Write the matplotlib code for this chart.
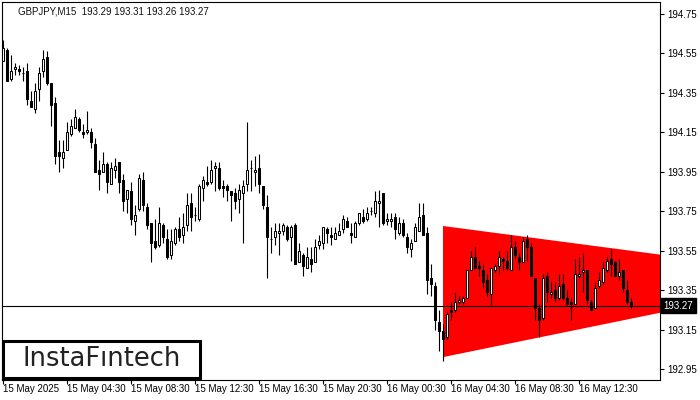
import numpy as np
import matplotlib
matplotlib.use("Agg")
import matplotlib.pyplot as plt
from matplotlib.patches import Polygon, Rectangle

plt.rcParams['font.family'] = ['Liberation Sans', 'DejaVu Sans']

# GBPJPY M15 candles
opens = [194.51, 194.57, 194.42, 194.47, 194.47, 194.45, 194.46, 194.31, 194.27, 194.37,
         194.46, 194.53, 194.40, 194.30, 194.05, 194.02, 194.06, 194.14, 194.17, 194.22,
         194.15, 194.15, 194.15, 194.09, 193.96, 193.95, 193.99, 193.89, 193.96, 194.00,
         193.91, 193.81, 193.85, 193.70, 193.76, 193.91, 193.77, 193.69, 193.60, 193.58,
         193.68, 193.61, 193.53, 193.59, 193.66, 193.63, 193.68, 193.79, 193.73, 193.71,
         193.87, 193.90, 193.90, 193.97, 193.97, 193.88, 193.88, 193.85, 193.84, 193.81,
         193.84, 193.89, 193.97, 193.95, 193.97, 193.88, 193.77, 193.61, 193.62, 193.64,
         193.65, 193.67, 193.62, 193.68, 193.49, 193.53, 193.46, 193.51, 193.49, 193.58,
         193.59, 193.66, 193.63, 193.61, 193.63, 193.66, 193.70, 193.64, 193.62, 193.69,
         193.72, 193.71, 193.75, 193.74, 193.79, 193.84, 193.70, 193.70, 193.72, 193.64,
         193.69, 193.62, 193.56, 193.60, 193.65, 193.73, 193.64, 193.41, 193.37, 193.19,
         193.14, 193.11, 193.25, 193.25, 193.29, 193.29, 193.31, 193.45, 193.52, 193.47,
         193.45, 193.40, 193.33, 193.45, 193.47, 193.51, 193.50, 193.45, 193.57, 193.52,
         193.49, 193.61, 193.57, 193.41, 193.26, 193.21, 193.42, 193.33, 193.35, 193.31,
         193.38, 193.31, 193.29, 193.28, 193.42, 193.44, 193.45, 193.29, 193.26, 193.37,
         193.39, 193.45, 193.51, 193.49, 193.42, 193.45, 193.35, 193.29]
highs = [194.62, 194.58, 194.54, 194.50, 194.49, 194.48, 194.50, 194.36, 194.40, 194.48,
         194.57, 194.56, 194.40, 194.33, 194.11, 194.11, 194.20, 194.22, 194.27, 194.23,
         194.19, 194.26, 194.17, 194.12, 194.01, 194.05, 194.00, 194.00, 194.02, 194.00,
         193.94, 193.86, 193.90, 193.78, 193.94, 193.95, 193.79, 193.69, 193.71, 193.77,
         193.69, 193.66, 193.66, 193.67, 193.72, 193.74, 193.84, 193.84, 193.77, 193.89,
         193.93, 193.98, 194.01, 194.00, 194.00, 193.91, 193.89, 193.85, 193.87, 193.89,
         193.91, 194.20, 194.01, 194.03, 194.04, 193.88, 193.83, 193.67, 193.69, 193.69,
         193.69, 193.68, 193.68, 193.69, 193.59, 193.54, 193.57, 193.57, 193.61, 193.63,
         193.67, 193.67, 193.67, 193.67, 193.69, 193.73, 193.72, 193.69, 193.70, 193.74,
         193.76, 193.77, 193.77, 193.85, 193.86, 193.84, 193.74, 193.74, 193.74, 193.72,
         193.71, 193.64, 193.61, 193.69, 193.79, 193.79, 193.67, 193.48, 193.39, 193.25,
         193.18, 193.24, 193.29, 193.34, 193.32, 193.32, 193.45, 193.55, 193.57, 193.50,
         193.48, 193.43, 193.46, 193.48, 193.55, 193.52, 193.55, 193.63, 193.60, 193.54,
         193.62, 193.63, 193.59, 193.41, 193.28, 193.43, 193.44, 193.39, 193.39, 193.43,
         193.43, 193.35, 193.31, 193.51, 193.52, 193.54, 193.45, 193.30, 193.39, 193.44,
         193.49, 193.52, 193.56, 193.50, 193.51, 193.45, 193.40, 193.31]
lows = [194.51, 194.41, 194.41, 194.44, 194.44, 194.41, 194.29, 194.28, 194.25, 194.31,
        194.43, 194.39, 194.18, 193.99, 193.95, 193.97, 194.06, 194.13, 194.17, 194.15,
        194.12, 194.14, 194.07, 193.95, 193.86, 193.95, 193.84, 193.89, 193.92, 193.84,
        193.75, 193.74, 193.68, 193.63, 193.75, 193.75, 193.66, 193.49, 193.56, 193.57,
        193.59, 193.51, 193.51, 193.58, 193.60, 193.59, 193.65, 193.65, 193.70, 193.70,
        193.80, 193.88, 193.89, 193.85, 193.86, 193.82, 193.80, 193.70, 193.76, 193.74,
        193.59, 193.85, 193.85, 193.88, 193.84, 193.76, 193.41, 193.54, 193.58, 193.53,
        193.63, 193.60, 193.50, 193.48, 193.49, 193.42, 193.46, 193.44, 193.49, 193.56,
        193.56, 193.59, 193.58, 193.61, 193.63, 193.64, 193.67, 193.59, 193.62, 193.68,
        193.69, 193.70, 193.73, 193.72, 193.67, 193.68, 193.68, 193.67, 193.61, 193.63,
        193.62, 193.54, 193.52, 193.60, 193.65, 193.63, 193.33, 193.32, 193.15, 193.04,
        192.99, 193.10, 193.20, 193.24, 193.28, 193.28, 193.31, 193.45, 193.46, 193.42,
        193.36, 193.32, 193.27, 193.44, 193.43, 193.45, 193.45, 193.45, 193.51, 193.45,
        193.49, 193.50, 193.42, 193.20, 193.11, 193.20, 193.29, 193.31, 193.29, 193.30,
        193.30, 193.27, 193.20, 193.28, 193.41, 193.34, 193.28, 193.25, 193.26, 193.36,
        193.38, 193.44, 193.42, 193.42, 193.40, 193.34, 193.28, 193.26]
closes = [194.58, 194.41, 194.46, 194.48, 194.46, 194.45, 194.32, 194.28, 194.36, 194.45,
          194.52, 194.40, 194.29, 194.03, 194.03, 194.05, 194.15, 194.18, 194.23, 194.16,
          194.14, 194.16, 194.10, 193.95, 193.94, 193.99, 193.90, 193.97, 193.98, 193.90,
          193.80, 193.86, 193.71, 193.73, 193.92, 193.78, 193.68, 193.59, 193.57, 193.69,
          193.62, 193.52, 193.60, 193.66, 193.62, 193.67, 193.78, 193.72, 193.73, 193.88,
          193.91, 193.89, 193.96, 193.98, 193.87, 193.87, 193.86, 193.83, 193.80, 193.86,
          193.88, 193.96, 193.97, 193.96, 193.89, 193.78, 193.62, 193.61, 193.65, 193.65,
          193.68, 193.61, 193.67, 193.48, 193.55, 193.47, 193.52, 193.48, 193.57, 193.60,
          193.67, 193.64, 193.62, 193.64, 193.65, 193.71, 193.67, 193.63, 193.69, 193.74,
          193.70, 193.74, 193.75, 193.80, 193.80, 193.69, 193.71, 193.71, 193.66, 193.69,
          193.63, 193.57, 193.59, 193.67, 193.72, 193.63, 193.40, 193.38, 193.20, 193.14,
          193.10, 193.23, 193.24, 193.29, 193.30, 193.31, 193.45, 193.52, 193.46, 193.46,
          193.39, 193.34, 193.46, 193.47, 193.52, 193.50, 193.46, 193.57, 193.53, 193.49,
          193.60, 193.57, 193.42, 193.26, 193.20, 193.41, 193.34, 193.34, 193.31, 193.37,
          193.31, 193.28, 193.28, 193.43, 193.43, 193.45, 193.30, 193.25, 193.36, 193.40,
          193.46, 193.50, 193.48, 193.42, 193.44, 193.36, 193.29, 193.27]

# symmetrical triangle pattern (bar index, upper and lower edge)
tri_x = [110, 164.25]
tri_top = [193.675, 193.53]
tri_bot = [193.01, 193.235]

last_price = 193.27
price_ticks = [194.75, 194.55, 194.35, 194.15, 193.95, 193.75, 193.55, 193.35, 193.15, 192.95]
time_tick_pos = [0, 16, 32, 48, 64, 80, 96, 112, 128, 144]
time_labels = ["15 May 2025", "15 May 04:30", "15 May 08:30", "15 May 12:30", "15 May 16:30",
               "15 May 20:30", "16 May 00:30", "16 May 04:30", "16 May 08:30", "16 May 12:30"]

fig = plt.figure(figsize=(7, 4), dpi=100)
ax = fig.add_axes([2 / 700, 20 / 400, 658 / 700, 378 / 400])

o = np.array(opens)
h = np.array(highs)
l = np.array(lows)
c = np.array(closes)
x = np.arange(len(o))

# pattern
poly = Polygon([(tri_x[0], tri_top[0]), (tri_x[1], tri_top[1]),
                (tri_x[1], tri_bot[1]), (tri_x[0], tri_bot[0])],
               closed=True, facecolor="#ff0000", edgecolor="none", zorder=1)
ax.add_patch(poly)

ax.axhline(last_price, color="black", lw=0.8, zorder=2)

# candles
ax.vlines(x, l, h, color="black", lw=0.8, zorder=3)
body_lo = np.minimum(o, c)
body_h = np.abs(c - o)
colors = np.where(c >= o, "white", "black")
ax.bar(x, body_h, bottom=body_lo, width=0.5, color=colors, edgecolor="black",
       linewidth=0.75, zorder=4)

ax.set_xlim(-0.25, 164.25)
ax.set_ylim(192.894, 194.811)

ax.yaxis.tick_right()
ax.set_yticks(price_ticks)
ax.set_yticklabels([f"{p:.2f}" for p in price_ticks])
ax.set_xticks(time_tick_pos)
ax.set_xticklabels(time_labels, ha="left")
ax.tick_params(axis="y", direction="out", length=3, width=0.8, labelsize=7, pad=2)
ax.tick_params(axis="x", direction="out", length=3, width=0.8, labelsize=7, pad=0)
for sp in ax.spines.values():
    sp.set_color("black")
    sp.set_linewidth(0.8)

# current price marker on the scale
ax.annotate(f"{last_price:.2f}", xy=(1.0, last_price), xycoords=("axes fraction", "data"),
            xytext=(2.5, 0), textcoords="offset points", va="center", ha="left",
            fontsize=7, color="white",
            bbox=dict(boxstyle="square,pad=0.25", facecolor="black", edgecolor="black"))

fig.text(18 / 700, 1 - 12 / 400, "GBPJPY,M15  193.29 193.31 193.26 193.27",
         fontsize=7, va="center", ha="left", color="#111111")

# logo box
fig.patches.append(Rectangle((3 / 700, 22 / 400), 197 / 700, 37 / 400, transform=fig.transFigure,
                             facecolor="white", edgecolor="black", lw=2.2, zorder=10))
fig.text(102 / 700, 41 / 400, "InstaFıntech", fontsize=18.5, ha="center", va="center",
         color="#222222", family=["DejaVu Sans"], zorder=11)

fig.savefig("out.png", dpi=100)
